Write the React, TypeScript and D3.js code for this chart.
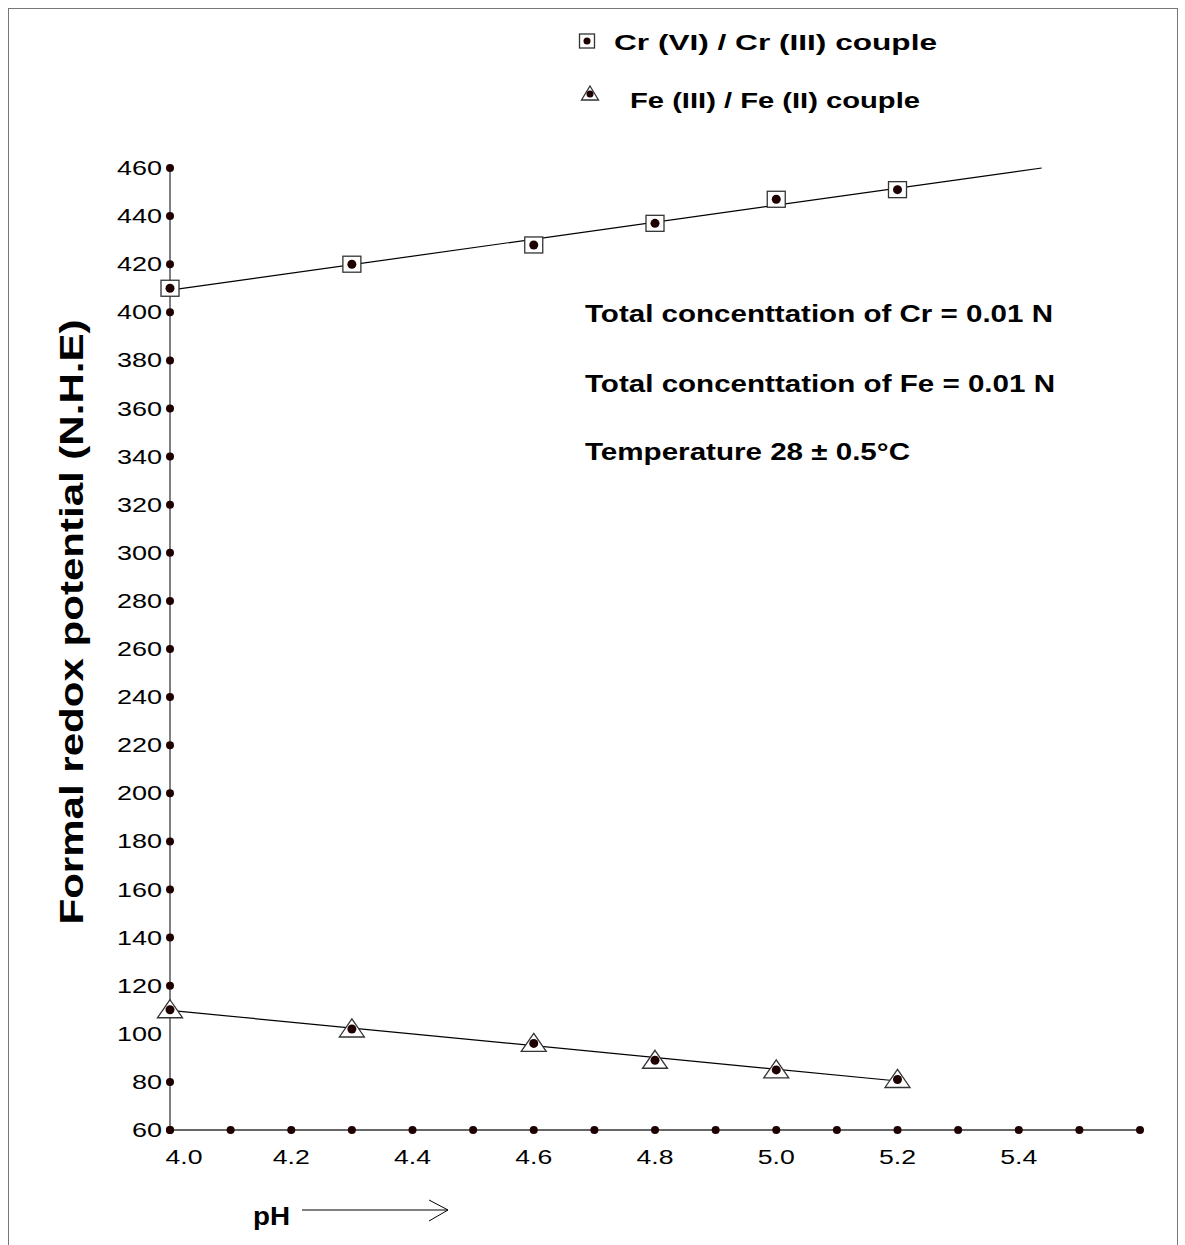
import { useEffect, useRef } from 'react';
import * as d3 from 'd3';

// pH of the measured solutions
const phValues = [4.0, 4.3, 4.6, 4.8, 5.0, 5.2];
// formal redox potential (mV vs N.H.E)
const crPotential = [410, 420, 428, 437, 447, 451];
const fePotential = [110, 102, 96, 89, 85, 81];

const yTickValues = [60, 80, 100, 120, 140, 160, 180, 200, 220, 240, 260, 280, 300, 320, 340, 360, 380, 400, 420, 440, 460];
// the axis has no dot beside the 100 label
const yDotValues = [60, 80, 120, 140, 160, 180, 200, 220, 240, 260, 280, 300, 320, 340, 360, 380, 400, 420, 440, 460];
const xTickLabels = [4.0, 4.2, 4.4, 4.6, 4.8, 5.0, 5.2, 5.4];
const xDotValues = [4.0, 4.1, 4.2, 4.3, 4.4, 4.5, 4.6, 4.7, 4.8, 4.9, 5.0, 5.1, 5.2, 5.3, 5.4, 5.5, 5.6];

const legendLabels = ['Cr (VI) / Cr (III) couple', 'Fe (III) / Fe (II) couple'];
const noteLines = ['Total concenttation of Cr = 0.01 N', 'Total concenttation of Fe = 0.01 N', 'Temperature 28 \u00b1 0.5\u00b0C'];

const FONT = '"Liberation Sans", Arial, sans-serif';
const DOT = '#1f0000';
const INK = '#333';

// least squares line through the points
const fit = (xs: number[], ys: number[]) => {
  const mx = d3.mean(xs) as number;
  const my = d3.mean(ys) as number;
  let sxy = 0;
  let sxx = 0;
  xs.forEach((v, i) => {
    sxy += (v - mx) * (ys[i] - my);
    sxx += (v - mx) * (v - mx);
  });
  const slope = sxy / sxx;
  return { slope, at: (v: number) => my + slope * (v - mx) };
};

const App = () => {
  const svgRef = useRef<SVGSVGElement>(null);

  useEffect(() => {
    const svg = d3.select(svgRef.current);
    svg.selectAll('*').remove();

    const x = d3.scaleLinear().domain([4.0, 5.6]).range([170, 1140]);
    const y = d3.scaleLinear().domain([60, 460]).range([1130, 168]);

    // outer frame
    svg
      .append('rect')
      .attr('x', 8.5)
      .attr('y', 8.5)
      .attr('width', 1169)
      .attr('height', 1300)
      .attr('fill', 'none')
      .attr('stroke', '#777');

    // axes lines
    svg
      .append('line')
      .attr('x1', x(4.0))
      .attr('x2', x(4.0))
      .attr('y1', y(460))
      .attr('y2', y(60))
      .attr('stroke', '#555')
      .attr('stroke-width', 1.5);
    svg
      .append('line')
      .attr('x1', x(4.0))
      .attr('x2', x(5.6))
      .attr('y1', y(60))
      .attr('y2', y(60))
      .attr('stroke', '#333')
      .attr('stroke-width', 1.5);

    // tick dots
    svg
      .selectAll('circle.ydot')
      .data(yDotValues)
      .enter()
      .append('circle')
      .attr('class', 'ydot')
      .attr('cx', x(4.0))
      .attr('cy', (d) => y(d))
      .attr('r', 4)
      .attr('fill', DOT);
    svg
      .selectAll('circle.xdot')
      .data(xDotValues)
      .enter()
      .append('circle')
      .attr('class', 'xdot')
      .attr('cx', (d) => x(d))
      .attr('cy', y(60))
      .attr('r', 4)
      .attr('fill', DOT);

    // tick labels
    svg
      .selectAll('text.ylab')
      .data(yTickValues)
      .enter()
      .append('text')
      .attr('class', 'ylab')
      .attr('x', x(4.0) - 8)
      .attr('y', (d) => y(d) + 7)
      .attr('text-anchor', 'end')
      .attr('textLength', (d) => String(d).length * 15)
      .attr('lengthAdjust', 'spacingAndGlyphs')
      .style('font-family', FONT)
      .style('font-size', '20px')
      .text((d) => d);
    svg
      .selectAll('text.xlab')
      .data(xTickLabels)
      .enter()
      .append('text')
      .attr('class', 'xlab')
      .attr('x', (d) => x(d) + (d === 4.0 ? 14 : 0))
      .attr('y', y(60) + 34)
      .attr('text-anchor', 'middle')
      .attr('textLength', 37)
      .attr('lengthAdjust', 'spacingAndGlyphs')
      .style('font-family', FONT)
      .style('font-size', '20px')
      .text((d) => d.toFixed(1));

    // axis titles
    svg
      .append('text')
      .attr('transform', `translate(83,${(y(460) + y(60)) / 2 - 27}) rotate(-90)`)
      .attr('text-anchor', 'middle')
      .attr('textLength', 605)
      .attr('lengthAdjust', 'spacingAndGlyphs')
      .style('font-family', FONT)
      .style('font-size', '33px')
      .style('font-weight', 'bold')
      .text('Formal redox potential (N.H.E)');
    svg
      .append('text')
      .attr('x', 253)
      .attr('y', 1225)
      .attr('textLength', 37)
      .attr('lengthAdjust', 'spacingAndGlyphs')
      .style('font-family', FONT)
      .style('font-size', '25px')
      .style('font-weight', 'bold')
      .text('pH');
    svg
      .append('line')
      .attr('x1', 302)
      .attr('x2', 448)
      .attr('y1', 1210)
      .attr('y2', 1210)
      .attr('stroke', '#000');
    svg
      .append('path')
      .attr('d', 'M429,1200 L448,1210 L429,1221')
      .attr('fill', 'none')
      .attr('stroke', '#000');

    // fitted lines
    const crFit = fit(phValues, crPotential);
    const feFit = fit(phValues, fePotential);
    const crEnd = 4.0 + (460 - crFit.at(4.0)) / crFit.slope;
    const line = d3
      .line<number[]>()
      .x((d) => x(d[0]))
      .y((d) => y(d[1]));
    svg
      .append('path')
      .attr('d', line([[4.0, crFit.at(4.0)], [crEnd, crFit.at(crEnd)]]))
      .attr('stroke', '#000')
      .attr('stroke-width', 1.2)
      .attr('fill', 'none');
    svg
      .append('path')
      .attr('d', line([[4.0, feFit.at(4.0)], [5.2, feFit.at(5.2)]]))
      .attr('stroke', '#000')
      .attr('stroke-width', 1.2)
      .attr('fill', 'none');

    // markers
    const square = (g, cx, cy, w, h) =>
      g
        .append('rect')
        .attr('x', cx - w / 2)
        .attr('y', cy - h / 2)
        .attr('width', w)
        .attr('height', h)
        .attr('fill', '#fff')
        .attr('stroke', INK)
        .attr('stroke-width', 1.3);
    const triangle = (g, cx, cy, w, up, down) =>
      g
        .append('path')
        .attr('d', `M${cx},${cy - up} L${cx + w / 2},${cy + down} L${cx - w / 2},${cy + down} Z`)
        .attr('fill', '#fff')
        .attr('stroke', INK)
        .attr('stroke-width', 1.3);
    const dot = (g, cx, cy, r) => g.append('circle').attr('cx', cx).attr('cy', cy).attr('r', r).attr('fill', DOT);

    phValues.forEach((p, i) => {
      square(svg, x(p), y(crPotential[i]), 18, 16);
      dot(svg, x(p), y(crPotential[i]), 4.5);
      triangle(svg, x(p), y(fePotential[i]), 25, 10, 8);
      dot(svg, x(p), y(fePotential[i]), 4.5);
    });

    // legend
    square(svg, 587, 41, 15, 14);
    dot(svg, 587, 41, 3.5);
    triangle(svg, 590, 94, 17, 8, 6);
    dot(svg, 590, 94, 3.5);
    const legendPos = [
      { x: 614, y: 50, len: 323 },
      { x: 630, y: 108, len: 290 },
    ];
    legendLabels.forEach((t, i) => {
      svg
        .append('text')
        .attr('x', legendPos[i].x)
        .attr('y', legendPos[i].y)
        .attr('textLength', legendPos[i].len)
        .attr('lengthAdjust', 'spacingAndGlyphs')
        .style('font-family', FONT)
        .style('font-size', '22px')
        .style('font-weight', 'bold')
        .text(t);
    });

    // conditions
    const notePos = [
      { y: 322, len: 468 },
      { y: 392, len: 470 },
      { y: 460, len: 325 },
    ];
    noteLines.forEach((t, i) => {
      svg
        .append('text')
        .attr('x', 585)
        .attr('y', notePos[i].y)
        .attr('textLength', notePos[i].len)
        .attr('lengthAdjust', 'spacingAndGlyphs')
        .style('font-family', FONT)
        .style('font-size', '24px')
        .style('font-weight', 'bold')
        .text(t);
    });
  }, []);

  return (
    <svg
      ref={svgRef}
      width={1185}
      height={1245}
      style={{ position: 'absolute', left: 0, top: 0, background: '#fff' }}
    ></svg>
  );
};

export default App;
